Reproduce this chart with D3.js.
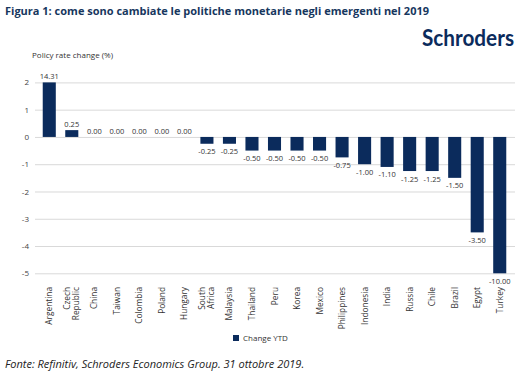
<!DOCTYPE html>
<html><head><meta charset="utf-8">
<script src="https://cdn.jsdelivr.net/npm/d3@7/dist/d3.min.js"></script>
<style>
body{margin:0;background:#fff;}
svg{display:block;font-family:"Open Sans",sans-serif;}
</style></head>
<body><svg id="c" width="526" height="376"></svg>
<script>
const categories = ["Argentina","Czech Republic","China","Taiwan","Colombia","Poland","Hungary","South Africa","Malaysia","Thailand","Peru","Korea","Mexico","Philippines","Indonesia","India","Russia","Chile","Brazil","Egypt","Turkey"];
const values = [14.31,0.25,0,0,0,0,0,-0.25,-0.25,-0.5,-0.5,-0.5,-0.5,-0.75,-1.0,-1.1,-1.25,-1.25,-1.5,-3.5,-10.0];
const yTicks = [2,1,0,-1,-2,-3,-4,-5];
const seriesName = "Change YTD";
const titleText = "Figura 1: come sono cambiate le politiche monetarie negli emergenti nel 2019";
const axisTitle = "Policy rate change (%)";
const sourceText = "Fonte: Refinitiv, Schroders Economics Group. 31 ottobre 2019.";

const loc = d3.formatLocale({decimal:".",thousands:",",grouping:[3],currency:["",""],minus:"-"});
const svg = d3.select("#c");
const barColor = "#0b2b5c";
const x = d3.scaleBand().domain(categories).range([38, 511]).paddingInner(0.42).paddingOuter(0.21);
const y = d3.scaleLinear().domain([-5, 2]).range([273.3, 82.4]);
const clamp = v => Math.max(-5, Math.min(2, v));

svg.append("text").attr("x",5).attr("y",15).attr("fill","#17375e")
  .attr("font-size",11).attr("font-weight","bold").attr("font-family","'Open Sans',sans-serif").text(titleText);

svg.append("text").attr("x",422).attr("y",46).attr("fill","#0b2b5c")
  .attr("font-size",22).attr("font-weight",700).attr("font-family","Lato,sans-serif")
  .attr("textLength",92).attr("lengthAdjust","spacingAndGlyphs").text("Schroders");

svg.append("text").attr("x",32).attr("y",58).attr("fill","#333").attr("font-size",8).text(axisTitle);

// grid
const yAxis = d3.axisLeft(y).tickValues(yTicks).tickSize(-(515-35)).tickFormat(loc.format("d"));
const ga = svg.append("g").attr("transform","translate(35,0)").call(yAxis);
ga.select(".domain").remove();
ga.selectAll(".tick line").attr("stroke","#d9d9d9").attr("stroke-width",1);
ga.selectAll(".tick text").attr("fill","#444").attr("font-size",8).attr("x",-6).attr("font-family","'Open Sans',sans-serif");

// bars
svg.append("g").selectAll("rect").data(values).join("rect")
  .attr("x",(d,i)=>x(categories[i]))
  .attr("width",x.bandwidth())
  .attr("y",d=>Math.min(y(0),y(clamp(d))))
  .attr("height",d=>Math.abs(y(clamp(d))-y(0)))
  .attr("fill",barColor);

// value labels
svg.append("g").selectAll("text").data(values).join("text")
  .attr("x",(d,i)=>x(categories[i])+x.bandwidth()/2)
  .attr("y",d=> d>=0 ? y(clamp(d))-3 : y(clamp(d))+10.5)
  .attr("text-anchor","middle").attr("font-size",7.5).attr("fill","#333")
  .text(d=>loc.format(".2f")(d));

// category labels
const cg = svg.append("g").selectAll("g").data(categories).join("g")
  .attr("transform",d=>`translate(${x(d)+x.bandwidth()/2},287) rotate(-90)`);
cg.each(function(d){
  const parts = d.split(" ");
  const g = d3.select(this);
  const n = parts.length;
  parts.forEach((p,k)=>{
    g.append("text").attr("x",0).attr("y",(k-(n-1)/2)*9+3)
      .attr("text-anchor","end").attr("font-size",8.3).attr("fill","#333").text(p);
  });
});

// legend
svg.append("rect").attr("x",233).attr("y",335).attr("width",6).attr("height",6).attr("fill",barColor);
svg.append("text").attr("x",243).attr("y",341).attr("font-size",8).attr("fill","#333").text(seriesName);

svg.append("text").attr("x",5).attr("y",368).attr("font-size",11).attr("font-style","italic").attr("fill","#222").text(sourceText);
</script></body></html>
